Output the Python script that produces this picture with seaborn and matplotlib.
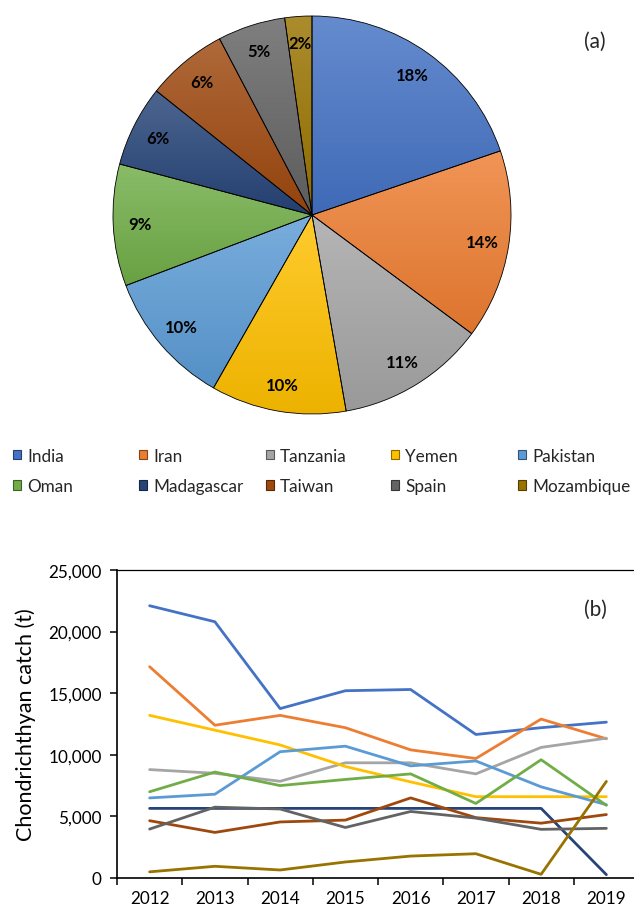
import numpy as np
import pandas as pd
import matplotlib
matplotlib.use("Agg")
import matplotlib.pyplot as plt
import seaborn as sns
from matplotlib.patches import Patch
from matplotlib.colors import to_rgb
from matplotlib.ticker import FuncFormatter

# ---- data ----
countries = ["India", "Iran", "Tanzania", "Yemen", "Pakistan",
             "Oman", "Madagascar", "Taiwan", "Spain", "Mozambique"]
colors = ["#4472C4", "#ED7D31", "#A5A5A5", "#FFC000", "#5B9BD5",
          "#70AD47", "#264478", "#9E480E", "#636363", "#997300"]
shares = [18, 14, 11, 10, 10, 9, 6, 6, 5, 2]

years = [2012, 2013, 2014, 2015, 2016, 2017, 2018, 2019]
india = [22100, 20800, 13750, 15200, 15300, 11650, 12200, 12650]
iran = [17150, 12400, 13200, 12200, 10400, 9700, 12900, 11300]
tanzania = [8800, 8500, 7850, 9350, 9350, 8450, 10600, 11350]
yemen = [13200, 12000, 10800, 9050, 7800, 6600, 6600, 6600]
pakistan = [6500, 6800, 10250, 10700, 9100, 9500, 7400, 5950]
oman = [7000, 8600, 7500, 8000, 8450, 6050, 9600, 5900]
madagascar = [5650, 5650, 5650, 5650, 5650, 5650, 5650, 270]
taiwan = [4650, 3700, 4550, 4700, 6500, 4900, 4450, 5150]
spain = [3970, 5750, 5600, 4100, 5400, 4860, 3950, 4030]
mozambique = [500, 950, 650, 1300, 1780, 1970, 300, 7840]

series = [india, iran, tanzania, yemen, pakistan,
          oman, madagascar, taiwan, spain, mozambique]

df = pd.DataFrame({
    "Year": np.tile(years, len(countries)),
    "Catch": np.concatenate(series),
    "Country": np.repeat(countries, len(years)),
})

sns.set_theme(style="white")
plt.rcParams["font.family"] = ["Lato", "DejaVu Sans"]

W, H = 634, 912
fig = plt.figure(figsize=(W / 100, H / 100), dpi=100)


def mix(c, other, t):
    c = np.array(to_rgb(c))
    o = np.array(to_rgb(other))
    return tuple(c * (1 - t) + o * t)


# ---- (a) pie with soft vertical gradient per slice ----
ax_pie = fig.add_axes([112 / W, 1 - 416 / H, 400 / W, 400 / H])
wedges, _ = ax_pie.pie(shares, startangle=90, counterclock=False,
                       colors=colors,
                       wedgeprops=dict(edgecolor="black", linewidth=0.6))
for w, base, v in zip(wedges, colors, shares):
    top = np.array(mix(base, "white", 0.18))
    bot = np.array(mix(base, "black", 0.07))
    t = np.linspace(0, 1, 64)[:, None]
    grad = (bot * (1 - t) + top * t)[:, None, :]
    ext = w.get_path().get_extents()
    im = ax_pie.imshow(grad, extent=[ext.x0, ext.x1, ext.y0, ext.y1],
                       origin="lower", aspect="auto", zorder=0.5,
                       interpolation="bilinear")
    im.set_clip_path(w)
    w.set_facecolor("none")
    w.set_zorder(1)
    mid = np.deg2rad((w.theta1 + w.theta2) / 2)
    ax_pie.text(0.865 * np.cos(mid), 0.865 * np.sin(mid), f"{v}%",
                ha="center", va="center", fontsize=12,
                fontweight="bold", color="black", zorder=3)
ax_pie.set_xlim(-1.005, 1.005)
ax_pie.set_ylim(-1.005, 1.005)
ax_pie.set_aspect("equal")
ax_pie.axis("off")

fig.text(595 / W, 1 - 42 / H, "(a)", ha="center", va="center", fontsize=15)

# ---- legend (five columns, two rows) ----
col_x = [13, 139, 266, 391, 518]
for j, x in enumerate(col_x):
    idx = [j, j + 5]
    handles = [Patch(facecolor=colors[i], edgecolor=mix(colors[i], "black", 0.45),
                     linewidth=0.8) for i in idx]
    fig.legend(handles, [countries[i] for i in idx],
               loc="center left", bbox_to_anchor=(x / W, 1 - 472 / H),
               frameon=False, fontsize=12.3, handlelength=0.48,
               handleheight=0.48, handletextpad=0.35, labelspacing=0.85,
               borderpad=0, borderaxespad=0)

# ---- (b) line chart ----
ax = fig.add_axes([117 / W, 1 - 879 / H, 522 / W, 308 / H])
sns.lineplot(data=df, x="Year", y="Catch", hue="Country",
             hue_order=countries, palette=colors, linewidth=2.0,
             legend=False, ax=ax)
ax.set_xlim(2011.5, 2019.5)
ax.set_ylim(0, 25000)
ax.set_yticks(range(0, 25001, 5000))
ax.yaxis.set_major_formatter(FuncFormatter(lambda v, p: f"{int(v):,}"))
ax.set_xticks(years)
ax.set_xticks([y - 0.5 for y in years], minor=True)
ax.tick_params(axis="x", which="major", length=0, pad=9, labelsize=12.3,
               colors="black")
ax.tick_params(axis="x", which="minor", length=5, width=1.1, direction="out",
               color="black", bottom=True)
ax.tick_params(axis="y", length=5, width=1.1, direction="out", left=True,
               labelsize=12.3, colors="black", pad=6)
ax.set_xlabel("")
ax.set_ylabel("Chondrichthyan catch (t)", fontsize=15.5, labelpad=9,
              color="black")
for s in ["left", "bottom"]:
    ax.spines[s].set_color("black")
    ax.spines[s].set_linewidth(1.2)
ax.spines["top"].set_color("black")
ax.spines["top"].set_linewidth(0.9)
ax.spines["right"].set_visible(False)
ax.grid(False)

fig.text(595 / W, 1 - 610 / H, "(b)", ha="center", va="center", fontsize=15)

fig.savefig("out.png", dpi=100)
